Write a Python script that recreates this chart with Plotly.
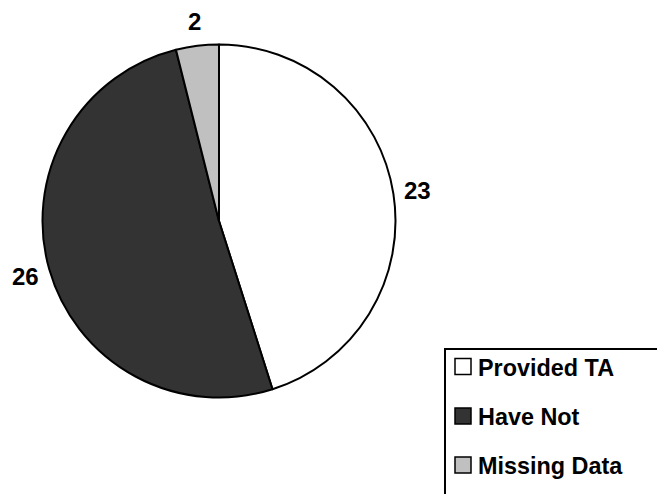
import math
import plotly.graph_objects as go

# Technical assistance status counts
labels = ["Provided TA", "Have Not", "Missing Data"]
values = [23, 26, 2]
colors = ["#FFFFFF", "#333333", "#C0C0C0"]

W, H = 657, 494
FONT = "Arial, 'Liberation Sans', sans-serif"


def px(x):
    return x / W


def py(y):
    return 1 - y / H


# pie centred at (219, 221) px with radius ~176.5 px
cx, cy, r = 219, 221, 176.5
fig = go.Figure(
    go.Pie(
        labels=labels,
        values=values,
        sort=False,
        direction="clockwise",
        rotation=0,
        marker=dict(colors=colors, line=dict(color="#000000", width=2)),
        textinfo="none",
        showlegend=False,
        hoverinfo="label+value",
        domain=dict(x=[px(cx - r), px(cx + r)], y=[py(cy + r), py(cy - r)]),
    )
)

annotations = []

# value labels sit outside each slice, centred on the slice's mid-angle
total = sum(values)
label_r = 201
start = 0.0
for v in values:
    mid = (start + v / 2) / total * 2 * math.pi
    start += v
    annotations.append(dict(xref="paper", yref="paper",
                            x=px(cx + label_r * math.sin(mid)),
                            y=py(cy - label_r * math.cos(mid)),
                            xanchor="center", yanchor="middle", showarrow=False,
                            text=str(v),
                            font=dict(family=FONT, size=24, color="#000000", weight="bold")))

# hand-built legend box, running off the right and bottom edges
shapes = [
    dict(type="rect", xref="paper", yref="paper",
         x0=px(445), x1=px(720), y0=py(349), y1=py(540),
         line=dict(color="#000000", width=2), fillcolor="rgba(0,0,0,0)")
]
row_y = [366.5, 416, 465]
for lab, col, yc in zip(labels, colors, row_y):
    shapes.append(dict(type="rect", xref="paper", yref="paper",
                       x0=px(455), x1=px(471), y0=py(yc + 8), y1=py(yc - 8),
                       line=dict(color="#000000", width=1.5), fillcolor=col))
    annotations.append(dict(xref="paper", yref="paper", x=px(476), y=py(yc + 1),
                            xanchor="left", yanchor="middle", showarrow=False,
                            text=lab, font=dict(family=FONT, size=23.4, color="#000000", weight="bold")))

fig.update_layout(
    width=W, height=H,
    margin=dict(l=0, r=0, t=0, b=0),
    paper_bgcolor="#FFFFFF",
    plot_bgcolor="#FFFFFF",
    shapes=shapes,
    annotations=annotations,
)

fig.write_html("out.html")
